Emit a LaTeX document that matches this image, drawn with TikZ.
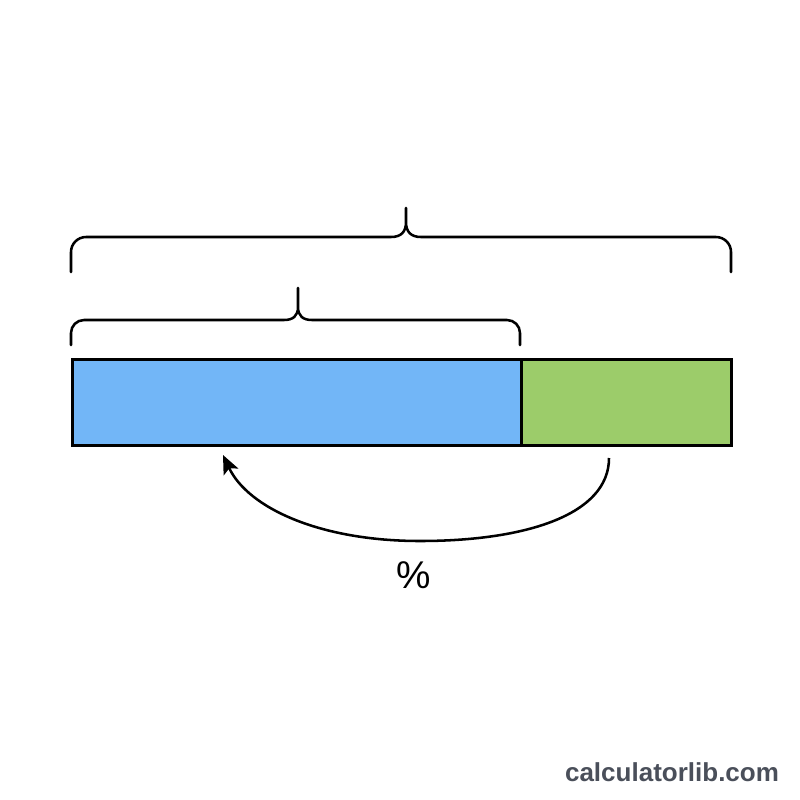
\documentclass[tikz,border=0pt]{standalone}
\usepackage{fontspec}
\setmainfont{Liberation Sans}
\usetikzlibrary{arrows.meta}
\definecolor{barblue}{HTML}{72B6F7}
\definecolor{bargreen}{HTML}{9CCC6A}
\definecolor{wmgray}{HTML}{4A4F5A}
\begin{document}
\begin{tikzpicture}[x=0.75pt,y=-0.75pt,
  barpart/.style={draw=black,line width=2.2pt,minimum height=64.5pt,inner sep=0pt,anchor=north west},
  bracestyle/.style={draw=black,line width=1.9pt,line cap=round,line join=round},
  arrowstyle/.style={draw=black,line width=1.9pt,-{Stealth[length=14pt,width=12pt,inset=3pt]}}]
\useasboundingbox (0,0) rectangle (800,800);
\fill[white] (0,0) rectangle (800,800);
% bar
\node[barpart,fill=barblue,minimum width=336.75pt] (blue) at (71,358) {};
\node[barpart,fill=bargreen,minimum width=157.5pt] (green) at (520,358) {};
% top brace
\draw[bracestyle] (71,272) -- (71,252) arc[start angle=180,end angle=270,radius=15]
  -- (391,237) .. controls (401,237) and (406,232) .. (406,222) -- (406,208)
  (406,222) .. controls (406,232) and (411,237) .. (421,237)
  -- (716,237) arc[start angle=-90,end angle=0,radius=15] -- (731,272);
% lower brace
\draw[bracestyle] (71,345) -- (71,333) arc[start angle=180,end angle=270,radius=13]
  -- (284,320) .. controls (293,320) and (298,316) .. (298,307) -- (298,288)
  (298,307) .. controls (298,316) and (303,320) .. (312,320)
  -- (507,320) arc[start angle=-90,end angle=0,radius=13] -- (520,345);
% arrow
\coordinate (a0) at (609,458);
\coordinate (am) at (420,541);
\coordinate (a1) at (223,455);
\draw[arrowstyle] (a0) .. controls (609,515) and (525,541) .. (am)
  .. controls (320,541) and (248,508) .. (a1);
\node[font=\fontsize{29}{31}\selectfont,inner sep=0pt] (pct) at (414,575) {\%};
% watermark
\node[font=\bfseries\fontsize{19.5}{22}\selectfont,text=wmgray,inner sep=0pt] (wm) at (672,772) {calculatorlib.com};
\end{tikzpicture}
\end{document}
